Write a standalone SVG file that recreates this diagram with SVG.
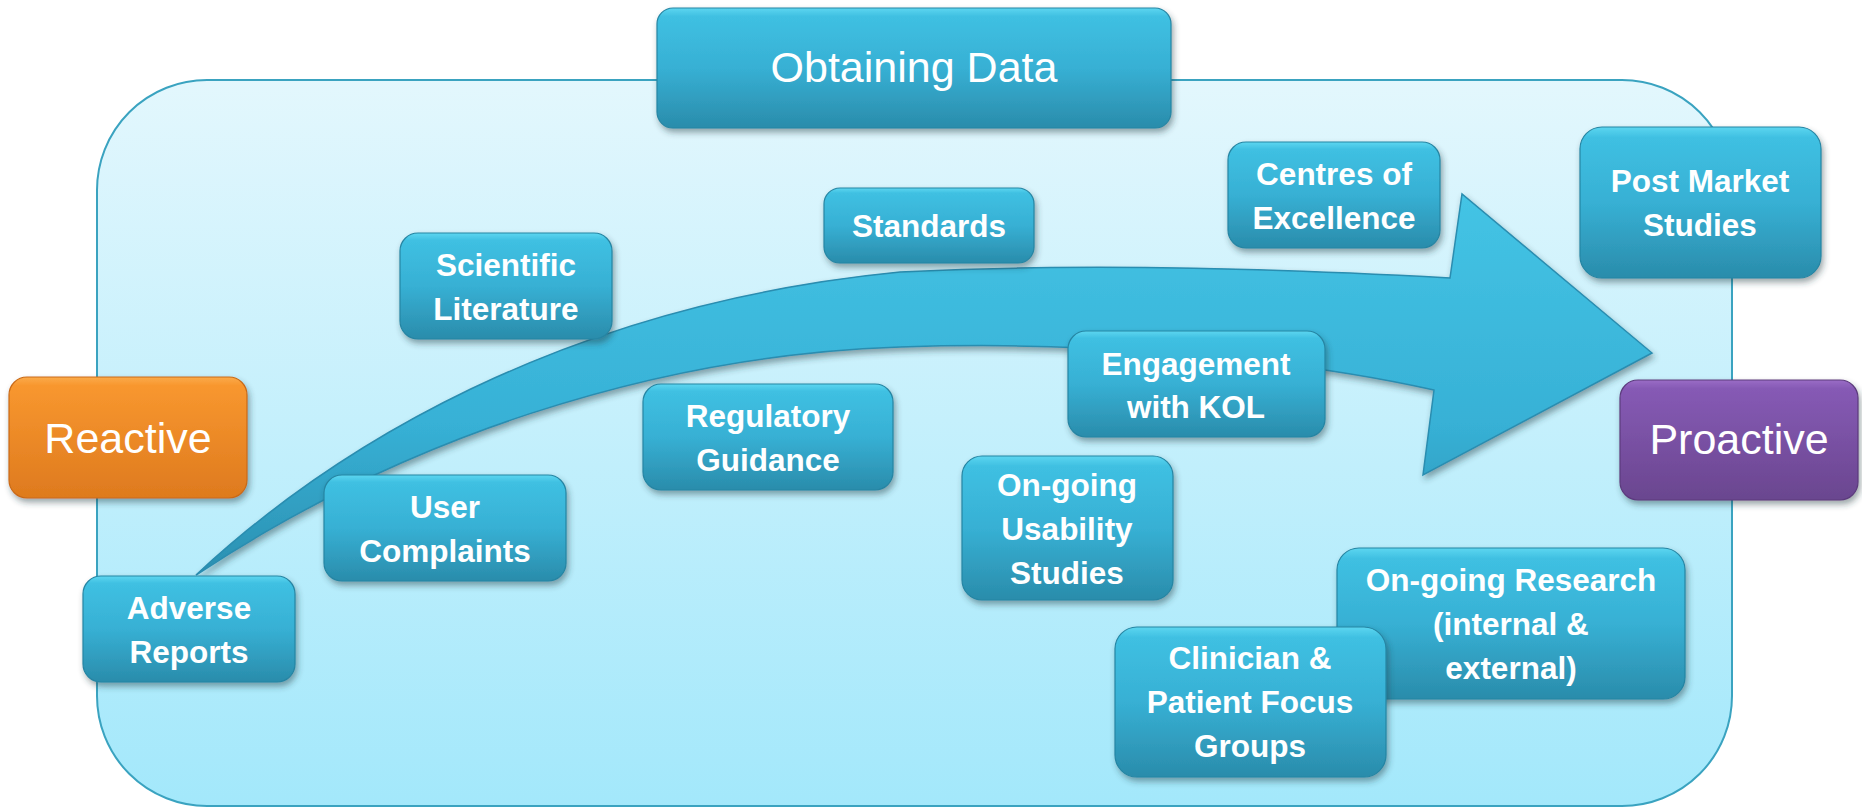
<svg xmlns="http://www.w3.org/2000/svg" width="1862" height="807" viewBox="0 0 1862 807">
<defs>
<linearGradient id="bgG" x1="0" y1="0" x2="0" y2="1">
<stop offset="0" stop-color="#e3f7fd"/>
<stop offset="1" stop-color="#a3e8fb"/>
</linearGradient>
<linearGradient id="tealG" x1="0" y1="0" x2="0" y2="1">
<stop offset="0" stop-color="#5dd6f0"/>
<stop offset="0.07" stop-color="#3fc0e2"/>
<stop offset="0.5" stop-color="#37b0d4"/>
<stop offset="1" stop-color="#2a8cab"/>
</linearGradient>
<linearGradient id="orG" x1="0" y1="0" x2="0" y2="1">
<stop offset="0" stop-color="#fbab4a"/>
<stop offset="0.07" stop-color="#f8972f"/>
<stop offset="1" stop-color="#de7a1e"/>
</linearGradient>
<linearGradient id="puG" x1="0" y1="0" x2="0" y2="1">
<stop offset="0" stop-color="#9a6cc6"/>
<stop offset="0.07" stop-color="#865ab5"/>
<stop offset="1" stop-color="#6a468f"/>
</linearGradient>
<linearGradient id="arG" x1="0" y1="0" x2="0" y2="1">
<stop offset="0" stop-color="#44c4e5"/>
<stop offset="0.6" stop-color="#37b1d6"/>
<stop offset="1" stop-color="#2b90b1"/>
</linearGradient>
<filter id="sh" x="-10%" y="-10%" width="120%" height="130%">
<feDropShadow dx="2" dy="4" stdDeviation="3" flood-color="#203840" flood-opacity="0.45"/>
</filter>
</defs>
<style>
.teal{fill:url(#tealG);stroke:#2585a3;stroke-width:1.2;filter:url(#sh)}
.bold{font-family:"Liberation Sans",Arial,sans-serif;font-weight:bold;font-size:31.5px;fill:#ffffff;text-anchor:middle}
.big{font-family:"Liberation Sans",Arial,sans-serif;font-size:43px;fill:#ffffff;text-anchor:middle}
</style>
<rect id="background" x="97" y="80" width="1635" height="726" rx="110" ry="110" fill="url(#bgG)" stroke="#3aa3c0" stroke-width="2"/>
<g id="obtaining-data">
<rect x="657" y="8" width="514" height="120" rx="16" class="teal"/>
<text class="big" x="914" y="82">Obtaining Data</text>
</g>
<g id="connectors">
<path d="M196,575 C330,450 560,305 900,272 C1100,262 1300,270 1450,278 L1462,194 L1652,353 L1423,475 L1434,390 C1300,360 1100,340 900,347 C650,355 400,440 196,575 Z" fill="url(#arG)" stroke="#2a8db0" stroke-width="1.5" filter="url(#sh)"/>
</g>
<g id="reactive">
<rect x="9" y="377" width="238" height="121" rx="18" fill="url(#orG)" stroke="#c96a16" stroke-width="1.2" filter="url(#sh)"/>
<text class="big" x="128" y="453">Reactive</text>
</g>
<g id="proactive">
<rect x="1620" y="380" width="238" height="120" rx="18" fill="url(#puG)" stroke="#5c3b7d" stroke-width="1.2" filter="url(#sh)"/>
<text class="big" x="1739" y="454">Proactive</text>
</g>
<g id="scientific-literature">
<rect x="400" y="233" width="212" height="106" rx="18" class="teal"/>
<text class="bold" x="506" y="276">Scientific</text>
<text class="bold" x="506" y="320">Literature</text>
</g>
<g id="standards">
<rect x="824" y="188" width="210" height="75" rx="16" class="teal"/>
<text class="bold" x="929" y="237">Standards</text>
</g>
<g id="centres-of-excellence">
<rect x="1228" y="142" width="212" height="106" rx="18" class="teal"/>
<text class="bold" x="1334" y="185">Centres of</text>
<text class="bold" x="1334" y="229">Excellence</text>
</g>
<g id="post-market-studies">
<rect x="1580" y="127" width="241" height="151" rx="22" class="teal"/>
<text class="bold" x="1700" y="192">Post Market</text>
<text class="bold" x="1700" y="236">Studies</text>
</g>
<g id="regulatory-guidance">
<rect x="643" y="384" width="250" height="106" rx="18" class="teal"/>
<text class="bold" x="768" y="427">Regulatory</text>
<text class="bold" x="768" y="471">Guidance</text>
</g>
<g id="engagement-with-kol">
<rect x="1068" y="331" width="257" height="106" rx="18" class="teal"/>
<text class="bold" x="1196" y="375">Engagement</text>
<text class="bold" x="1196" y="418">with KOL</text>
</g>
<g id="user-complaints">
<rect x="324" y="475" width="242" height="106" rx="18" class="teal"/>
<text class="bold" x="445" y="518">User</text>
<text class="bold" x="445" y="562">Complaints</text>
</g>
<g id="adverse-reports">
<rect x="83" y="576" width="212" height="106" rx="18" class="teal"/>
<text class="bold" x="189" y="619">Adverse</text>
<text class="bold" x="189" y="663">Reports</text>
</g>
<g id="usability-studies">
<rect x="962" y="456" width="211" height="144" rx="20" class="teal"/>
<text class="bold" x="1067" y="496">On-going</text>
<text class="bold" x="1067" y="540">Usability</text>
<text class="bold" x="1067" y="584">Studies</text>
</g>
<g id="ongoing-research">
<rect x="1337" y="548" width="348" height="151" rx="22" class="teal"/>
<text class="bold" x="1511" y="591">On-going Research</text>
<text class="bold" x="1511" y="635">(internal &amp;</text>
<text class="bold" x="1511" y="679">external)</text>
</g>
<g id="clinician-patient-focus-groups">
<rect x="1115" y="627" width="271" height="150" rx="22" class="teal"/>
<text class="bold" x="1250" y="669">Clinician &amp;</text>
<text class="bold" x="1250" y="713">Patient Focus</text>
<text class="bold" x="1250" y="757">Groups</text>
</g>
</svg>
